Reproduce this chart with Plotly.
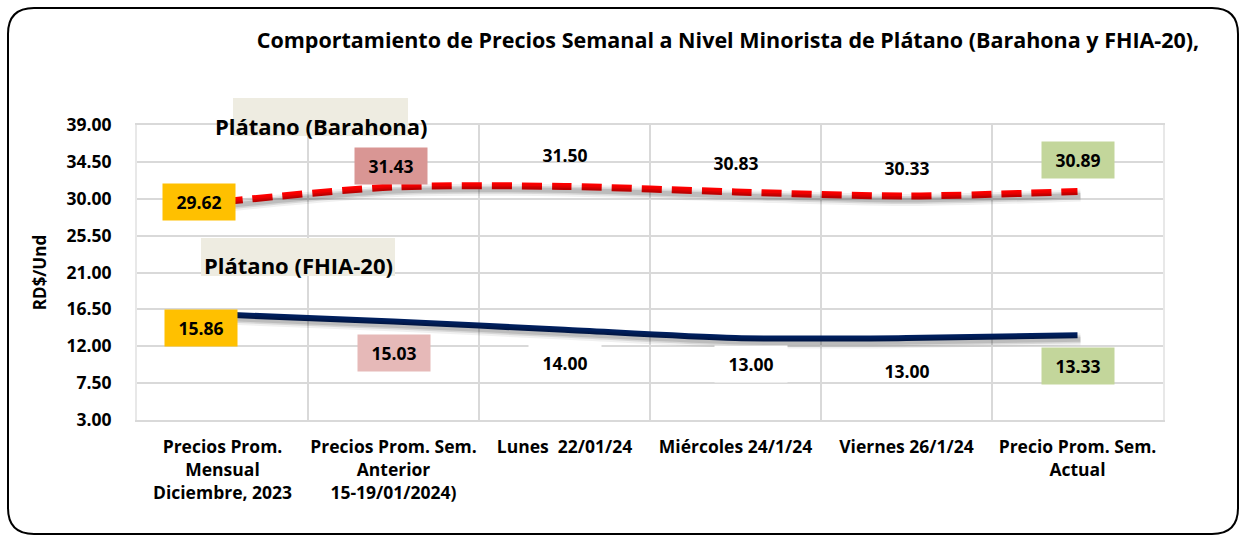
import plotly.graph_objects as go

# ── Data ──────────────────────────────────────────────────────────────────────
categorias = [
    "Precios Prom.<br>Mensual<br>Diciembre, 2023",
    "Precios Prom. Sem.<br>Anterior<br>15-19/01/2024)",
    "Lunes  22/01/24",
    "Miércoles 24/1/24",
    "Viernes 26/1/24",
    "Precio Prom. Sem.<br>Actual",
]
barahona = [29.62, 31.43, 31.50, 30.83, 30.33, 30.89]
fhia20   = [15.86, 15.03, 14.00, 13.00, 13.00, 13.33]
y_ticks  = [3.00, 7.50, 12.00, 16.50, 21.00, 25.50, 30.00, 34.50, 39.00]

FONT   = "Open Sans"
W, H   = 1242, 536
L, R, T, B = 137, 79, 125, 116
PW, PH = W - L - R, H - T - B
xs = list(range(len(categorias)))

# label styling: (box colour, xshift, yshift)
lab_bar = [("#FFC000", -24, 0), ("#D99694", -3, 21), (None, 0, 31),
           (None, 0, 29), (None, 0, 28), ("#C3D69B", 0, 31)]
lab_fhia = [("#FFC000", -22, -13), ("#E6B9B8", 0, -32), ("white", 0, -33),
            ("white", 15, -26), (None, 0, -33), ("#C3D69B", 0, -31)]

fig = go.Figure()

# soft shadows (same data on a slightly offset overlay axis)
dx = 3 / PW * 6
dy = 4 / PH * 36
for vals in (barahona, fhia20):
    for w, a in ((12, 0.06), (8, 0.10), (5, 0.12)):
        fig.add_trace(go.Scatter(
            x=xs, y=vals, xaxis="x2", yaxis="y2", mode="lines",
            line=dict(color=f"rgba(0,0,0,{a})", width=w, shape="spline", smoothing=0.8),
            hoverinfo="skip", showlegend=False,
        ))

fig.add_trace(go.Scatter(
    x=xs, y=barahona, mode="lines", name="Plátano (Barahona)",
    line=dict(color="#FF0000", width=7, dash="20px,10px", shape="spline", smoothing=0.8),
    showlegend=False,
))
fig.add_trace(go.Scatter(
    x=xs, y=fhia20, mode="lines", name="Plátano (FHIA-20)",
    line=dict(color="#002060", width=6, shape="spline", smoothing=0.8),
    showlegend=False,
))

# data labels
for vals, styles in ((barahona, lab_bar), (fhia20, lab_fhia)):
    for i, (v, (bg, sx, sy)) in enumerate(zip(vals, styles)):
        fig.add_annotation(
            x=i, y=v, text=f"{v:.2f}", showarrow=False,
            xshift=sx, yshift=sy, width=70, height=34,
            bgcolor=bg if bg else "rgba(0,0,0,0)",
            font=dict(family=FONT, size=17.5, color="black", weight="bold"),
        )

def px(x):  # pixel -> paper x
    return (x - L) / PW

def py(y):  # pixel -> paper y
    return (H - B - y) / PH

# series name boxes
for (x0, x1, y0, y1, tx, ty, txt) in (
        (233, 408, 98, 136, 321, 126, "Plátano (Barahona)"),
        (201, 395, 238, 276, 298, 265, "Plátano (FHIA-20)")):
    fig.add_shape(type="rect", xref="paper", yref="paper",
                  x0=px(x0), x1=px(x1), y0=py(y1), y1=py(y0),
                  fillcolor="#EEECE1", line=dict(width=0), layer="above")
    fig.add_annotation(xref="paper", yref="paper", x=px(tx), y=py(ty),
                       text=txt, showarrow=False, xanchor="center", yanchor="middle",
                       font=dict(family=FONT, size=22, color="black", weight="bold"))

# rounded outer border
r = 26
x0, x1, y0, y1 = px(8), px(1238), py(534), py(8)
rx, ry = r / PW, r / PH
path = (f"M {x0+rx},{y1} L {x1-rx},{y1} Q {x1},{y1} {x1},{y1-ry} "
        f"L {x1},{y0+ry} Q {x1},{y0} {x1-rx},{y0} "
        f"L {x0+rx},{y0} Q {x0},{y0} {x0},{y0+ry} "
        f"L {x0},{y1-ry} Q {x0},{y1} {x0+rx},{y1} Z")
fig.add_shape(type="path", xref="paper", yref="paper", path=path,
              line=dict(color="black", width=2), layer="below")

fig.update_layout(
    width=W, height=H,
    margin=dict(l=L, r=R, t=T, b=B),
    paper_bgcolor="white", plot_bgcolor="white",
    font=dict(family=FONT, color="black"),
    title=dict(
        text="Comportamiento de Precios Semanal a Nivel Minorista de Plátano (Barahona y FHIA-20),",
        x=728 / W, xanchor="center", y=1 - 40 / H, yanchor="middle",
        font=dict(family=FONT, size=21.5, color="black", weight="bold"),
    ),
    xaxis=dict(
        range=[-0.5, 5.5], tickvals=xs, ticktext=categorias,
        showgrid=False, zeroline=False, ticks="",
        showline=True, linecolor="#D9D9D9", linewidth=2, mirror=True,
        tickfont=dict(family=FONT, size=17.5, color="black", weight="bold"),
        ticklabelstandoff=10,
        minor=dict(tick0=0.5, dtick=1, showgrid=True, gridcolor="#D9D9D9", gridwidth=2),
    ),
    yaxis=dict(
        range=[3, 39], tickvals=y_ticks, ticktext=[f"{v:.2f}" for v in y_ticks],
        showgrid=True, gridcolor="#D9D9D9", gridwidth=2, zeroline=False,
        showline=True, linecolor="#E8E8E8", linewidth=2, mirror=True, ticks="",
        tickfont=dict(family=FONT, size=17.5, color="black", weight="bold"),
        ticklabelstandoff=20,
        title=dict(text="RD$/Und", standoff=16,
                   font=dict(family=FONT, size=17, color="black", weight="bold")),
    ),
    xaxis2=dict(overlaying="x", range=[-0.5 - dx, 5.5 - dx], visible=False),
    yaxis2=dict(overlaying="y", range=[3 + dy, 39 + dy], visible=False),
)

fig.write_html("out.html", config={"displayModeBar": False},
               post_script="document.body.style.margin='0';")
